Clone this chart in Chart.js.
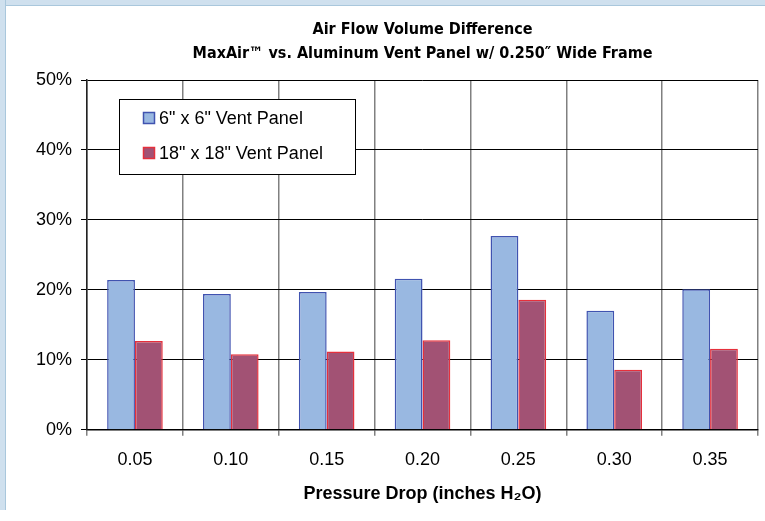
<!DOCTYPE html>
<html>
<head>
<meta charset="utf-8">
<script src="https://cdn.jsdelivr.net/npm/chart.js@4"></script>
<style>
  html, body { margin: 0; padding: 0; background: #fff; }
  #frame { position: absolute; left: 0; top: 0; width: 765px; height: 521px; overflow: hidden; }
  #bandTop { position: absolute; left: 0; top: 0; width: 765px; height: 5px; background: #cfe0ee; border-bottom: 1px solid #a9c7dc; }
  #bandLeft { position: absolute; left: 0; top: 0; width: 5px; height: 510px; background: #cfe0ee; border-right: 1px solid #a9c7dc; }
  #wrap { position: absolute; left: 0; top: 0; width: 765px; height: 521px; }
</style>
</head>
<body>
<div id="frame">
  <div id="bandTop"></div>
  <div id="bandLeft"></div>
  <div id="wrap"><canvas id="flowChart" width="765" height="521"></canvas></div>
</div>
<script>
// Data dari gambar
const pressureDrops = ["0.05", "0.10", "0.15", "0.20", "0.25", "0.30", "0.35"];
const panel6x6 = [21.4, 19.4, 19.7, 21.6, 27.7, 17.0, 20.1];
const panel18x18 = [12.7, 10.8, 11.2, 12.8, 18.6, 8.6, 11.6];
const yTicks = [0, 10, 20, 30, 40, 50];

const textFont = "Arial, 'Liberation Sans', sans-serif";

// Legend di dalam area grafik
const insideLegend = {
  id: "insideLegend",
  afterDraw(chart) {
    const ctx = chart.ctx;
    const x = 119, y = 99, w = 236, h = 75;
    ctx.save();
    ctx.fillStyle = "#fff";
    ctx.fillRect(x, y, w, h);
    ctx.strokeStyle = "#000";
    ctx.lineWidth = 1;
    ctx.strokeRect(x + 0.5, y + 0.5, w, h);
    ctx.font = "18px " + textFont;
    ctx.textBaseline = "middle";
    chart.data.datasets.forEach((ds, i) => {
      const cy = y + 19 + i * 35;
      ctx.fillStyle = ds.backgroundColor;
      ctx.fillRect(143, cy - 6, 12, 12);
      ctx.strokeStyle = ds.borderColor;
      ctx.lineWidth = 1.5;
      ctx.strokeRect(143.5, cy - 5.5, 11, 11);
      ctx.fillStyle = "#000";
      ctx.fillText(ds.label, 159, cy + 1);
    });
    ctx.restore();
  }
};

window.onload = () => {
  const ctx = document.getElementById("flowChart").getContext("2d");
  new Chart(ctx, {
    type: "bar",
    data: {
      labels: pressureDrops,
      datasets: [
        {
          label: "6\" x 6\" Vent Panel",
          data: panel6x6,
          backgroundColor: "#99b8e1",
          borderColor: "#4053b0",
          borderWidth: 1.5,
          categoryPercentage: 0.58,
          barPercentage: 1.0,
        },
        {
          label: "18\" x 18\" Vent Panel",
          data: panel18x18,
          backgroundColor: "#a25274",
          borderColor: "#e5303c",
          borderWidth: 1.5,
          categoryPercentage: 0.58,
          barPercentage: 1.0,
        },
      ],
    },
    options: {
      responsive: false,
      animation: false,
      layout: { padding: { left: 27, right: 7, top: 18, bottom: 12 } },
      plugins: {
        legend: { display: false },
        tooltip: { enabled: false },
        title: {
          display: true,
          fullSize: false,
          text: ["Air Flow Volume Difference", "MaxAir\u2122 vs. Aluminum Vent Panel w/ 0.250\u2033 Wide Frame"],
          color: "#000",
          font: { family: "'Liberation Sans Narrow', 'DejaVu Sans Condensed', Arial, sans-serif", size: 16, weight: "bold", lineHeight: 1.5 },
          padding: { top: 0, bottom: 14 },
        },
      },
      scales: {
        x: {
          grid: { color: "#808080", lineWidth: 1.5, tickLength: 6, offset: true },
          border: { color: "#000", width: 1.5 },
          ticks: { color: "#000", font: { family: textFont, size: 18 }, padding: 13 },
          title: {
            display: true,
            text: "Pressure Drop (inches H\u2082O)",
            color: "#000",
            font: { family: textFont, size: 18, weight: "bold" },
            padding: { top: 0 },
          },
        },
        y: {
          min: 0,
          max: 50,
          afterBuildTicks: (axis) => { axis.ticks = yTicks.map((v) => ({ value: v })); },
          grid: { color: "#000", lineWidth: 1, tickLength: 6 },
          border: { color: "#222", width: 1.5 },
          ticks: {
            color: "#000",
            font: { family: textFont, size: 18 },
            padding: 9,
            callback: (v) => v + "%",
          },
        },
      },
    },
    plugins: [insideLegend],
  });
};
</script>
</body>
</html>
